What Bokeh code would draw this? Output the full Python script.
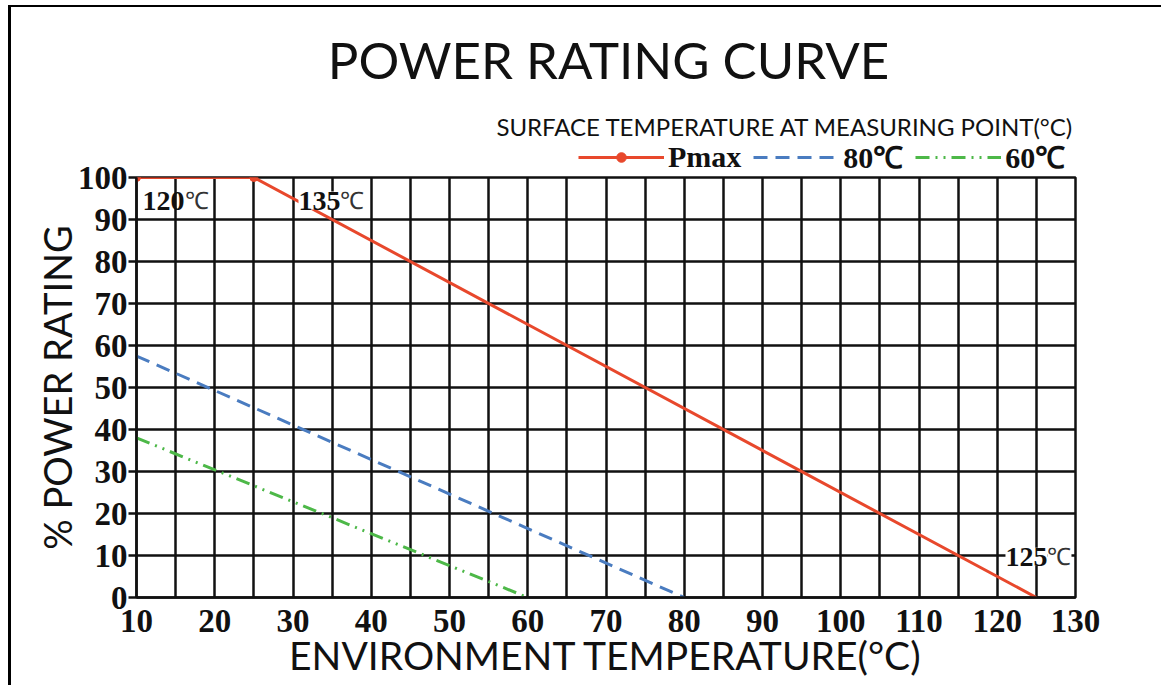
from bokeh.plotting import figure
from bokeh.models import (Range1d, FixedTicker, Label, Legend, LegendItem)
from bokeh.layouts import column
from bokeh.embed import file_html
from bokeh.resources import INLINE

# ---- data ----
temps_pmax = [10, 25, 125]
rating_pmax = [100, 100, 0]
marker_temps = [10, 25]
marker_rating = [100, 100]
temps_80 = [10, 80]
rating_80 = [57.5, 0]
temps_60 = [10, 60]
rating_60 = [38, 0]
x_ticks = [10, 20, 30, 40, 50, 60, 70, 80, 90, 100, 110, 120, 130]
y_ticks = [0, 10, 20, 30, 40, 50, 60, 70, 80, 90, 100]
x_grid = [15, 20, 25, 30, 35, 40, 45, 50, 55, 60, 65, 70, 75, 80, 85, 90, 95, 100, 105, 110, 115, 120, 125]
note_numbers = ["120", "135", "125"]
note_x = [10.77, 30.7, 121.05]
note_y = [94.5, 94.5, 9.7]
legend_labels = ["Pmax", "80℃", "60℃"]
title_text = "POWER RATING CURVE"
subtitle_text = "SURFACE TEMPERATURE AT MEASURING POINT(°C)"
xlabel_text = "ENVIRONMENT TEMPERATURE(°C)"
ylabel_text = "% POWER RATING"

RED = "#e8482c"
BLUE = "#4a7cc0"
GREEN = "#4db848"
SANS = "Lato"
SERIF = "Liberation Serif"
INK = "#111111"

W = 1150
HEAD_H = 170
OVERLAP = 20
MAIN_H = 528

# ---- header figure: title, subtitle, legend ----
ph = figure(width=W, height=HEAD_H, output_backend="svg", toolbar_location=None,
            x_range=Range1d(136, 1075), y_range=Range1d(0, HEAD_H),
            x_axis_type=None, y_axis_type=None,
            min_border_left=0, min_border_right=0, min_border_top=0, min_border_bottom=0)
ph.outline_line_color = None
ph.background_fill_color = "white"
ph.border_fill_color = "white"
ph.grid.visible = False

ph.add_layout(Label(x=608, y=118.5, text=title_text, text_font=SANS, text_font_size="51px",
                    text_align="center", text_baseline="middle", text_color=INK))
ph.add_layout(Label(x=1074, y=51.5, text=subtitle_text, text_font=SANS, text_font_size="24px",
                    text_align="right", text_baseline="middle", text_color=INK))

# legend entries reuse the series, drawn against an off-screen range
ph.extra_x_ranges = {"hidden": Range1d(5000, 6000)}
k_red = ph.line(temps_pmax, rating_pmax, x_range_name="hidden", line_color=RED, line_width=3)
k_pts = ph.scatter(marker_temps, marker_rating, x_range_name="hidden", size=8, color=RED)
k_blue = ph.line(temps_80, rating_80, x_range_name="hidden", line_color=BLUE, line_width=3,
                 line_dash="14 8")
k_green = ph.line(temps_60, rating_60, x_range_name="hidden", line_color=GREEN, line_width=3,
                  line_dash="14 6 2 6 2 6")
legend = Legend(items=[LegendItem(label=legend_labels[0], renderers=[k_red, k_pts]),
                       LegendItem(label=legend_labels[1], renderers=[k_blue]),
                       LegendItem(label=legend_labels[2], renderers=[k_green])],
                orientation="horizontal", location=(442, 0),
                glyph_width=86, glyph_height=24, label_standoff=4, spacing=12,
                padding=0, margin=0, border_line_alpha=0, background_fill_alpha=0,
                label_text_font=SERIF, label_text_font_style="bold",
                label_text_font_size="30px", label_text_color=INK,
                label_height=24)
ph.add_layout(legend)

# ---- main chart ----
p = figure(width=W, height=MAIN_H, output_backend="svg", toolbar_location=None,
           x_range=Range1d(10, 130), y_range=Range1d(0, 100),
           min_border_left=125, min_border_right=86, min_border_top=OVERLAP,
           min_border_bottom=88)
p.styles = {"margin-top": f"-{OVERLAP}px"}
p.background_fill_color = "white"
p.border_fill_alpha = 0
p.outline_line_color = INK
p.outline_line_width = 2.5
p.outline_line_alpha = 1

p.xgrid.ticker = FixedTicker(ticks=x_grid)
p.ygrid.ticker = FixedTicker(ticks=y_ticks)
for g in (p.xgrid, p.ygrid):
    g.grid_line_color = INK
    g.grid_line_width = 2.5
    g.grid_line_alpha = 1

p.xaxis.ticker = FixedTicker(ticks=x_ticks)
p.yaxis.ticker = FixedTicker(ticks=y_ticks)
for ax in (p.xaxis, p.yaxis):
    ax.axis_line_color = INK
    ax.axis_line_width = 2.5
    ax.minor_tick_line_color = None
    ax.major_label_text_font = SERIF
    ax.major_label_text_font_style = "bold"
    ax.major_label_text_font_size = "33px"
    ax.major_label_text_color = INK
    ax.axis_label_text_font = SANS
    ax.axis_label_text_font_style = "normal"
    ax.axis_label_text_color = INK
p.xaxis.major_tick_line_color = None
p.xaxis.major_label_standoff = 6
p.xaxis.axis_label = xlabel_text
p.xaxis.axis_label_text_font_size = "39px"
p.xaxis.axis_label_standoff = -3
p.yaxis.major_tick_in = 0
p.yaxis.major_tick_out = 8
p.yaxis.major_tick_line_width = 2.5
p.yaxis.major_tick_line_color = INK
p.yaxis.major_label_standoff = 1
p.yaxis.axis_label = ylabel_text
p.yaxis.axis_label_text_font_size = "38px"
p.yaxis.axis_label_standoff = -5

p.line(temps_pmax, rating_pmax, line_color=RED, line_width=3)
p.scatter(marker_temps, marker_rating, size=8, color=RED)
p.line(temps_80, rating_80, line_color=BLUE, line_width=3, line_dash="14 8")
p.line(temps_60, rating_60, line_color=GREEN, line_width=3, line_dash="14 6 2 6 2 6")

for i, (t, nx, ny) in enumerate(zip(note_numbers, note_x, note_y)):
    bg = None if i == 0 else "white"
    p.add_layout(Label(x=nx, y=ny, text=t, text_font=SERIF, text_font_style="bold",
                       text_font_size="28px", text_baseline="middle", text_align="left",
                       text_color=INK, background_fill_color=bg))
    p.add_layout(Label(x=nx, y=ny, x_offset=42, text="℃", text_font=SERIF,
                       text_font_size="24px", text_baseline="middle", text_align="left",
                       text_color="#333333", background_fill_color=bg))

layout = column(ph, p, spacing=0)
layout.styles = {"border-top": "2.5px solid black", "border-left": "3px solid black",
                 "margin-left": "8px", "margin-top": "5px"}

open("out.html", "w").write(file_html(layout, INLINE))
